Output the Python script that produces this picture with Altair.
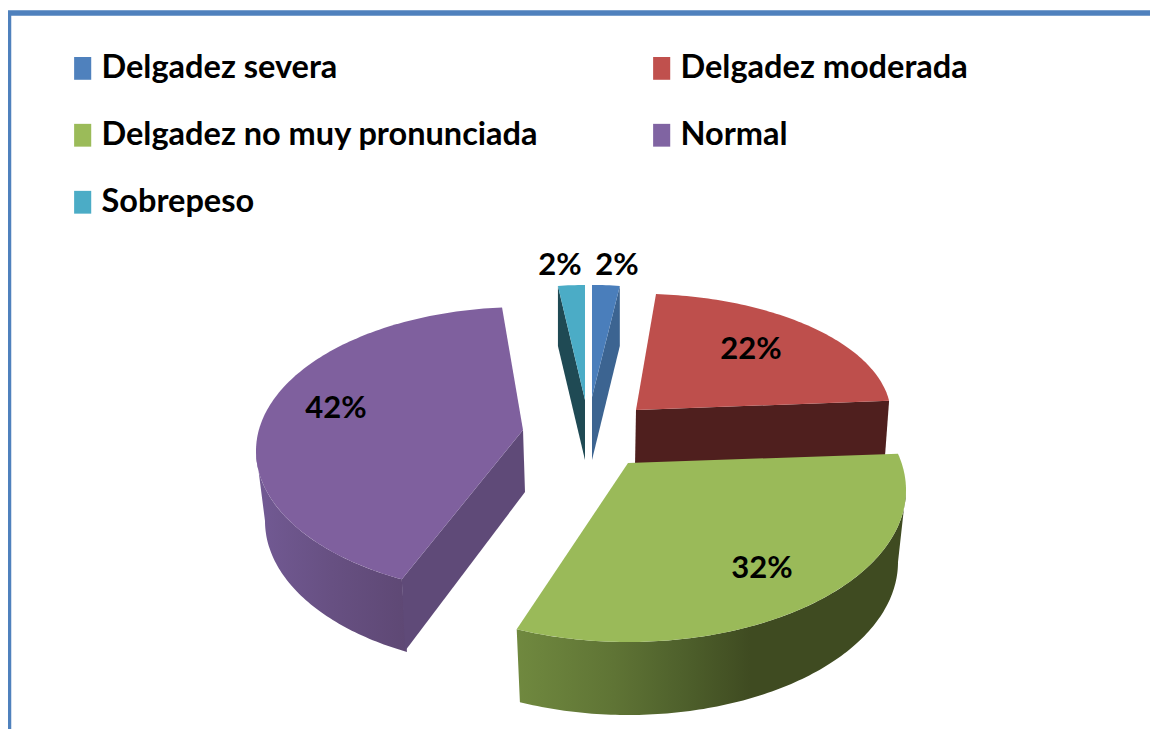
import math
import altair as alt
import pandas as pd

categories = ["Delgadez severa", "Delgadez moderada", "Delgadez no muy pronunciada", "Normal", "Sobrepeso"]
values = [2, 22, 32, 42, 2]
labels = ["2%", "22%", "32%", "42%", "2%"]
colors = ["#4F81BD", "#C0504D", "#9BBB59", "#8064A2", "#4BACC6"]

label_x = [617, 751, 762, 336, 560]
label_y = [266, 350, 569, 409, 266]

# perspective geometry of each exploded slice (reference pixel space)
geom = {
    0: dict(apex=(592, 397), a=222, b=112, cy=397, off=(0, 0)),
    1: dict(apex=(636, 410), a=255, b=122, cy=415.6, off=(-2.7, -3.4)),
    2: dict(apex=(628, 463), a=278, b=152, cy=490, off=(-10.2, 2.0)),
    3: dict(apex=(523, 430), a=267, b=144, cy=451, off=(5.4, 2.7)),
    4: dict(apex=(585, 400), a=216, b=115, cy=400, off=(0, 0)),
}

W, H = 1150, 729
x_scale = alt.Scale(domain=[8, W], range=[0, W - 8])
y_scale = alt.Scale(domain=[8, H], range=[0, H - 8])


def bounds(i):
    start = sum(values[:i]) * 3.6 + geom[i]["off"][0]
    end = sum(values[: i + 1]) * 3.6 + geom[i]["off"][1]
    return start, end


def arc(cx, cy, a, b, t0, t1):
    n = max(2, int(abs(t1 - t0)) + 1)
    pts = []
    for k in range(n + 1):
        t = math.radians(t0 + (t1 - t0) * k / n)
        pts.append((cx + a * math.sin(t), cy - b * math.cos(t)))
    return pts


def top_poly(i):
    g = geom[i]
    t0, t1 = bounds(i)
    return [g["apex"]] + arc(g["apex"][0], g["cy"], g["a"], g["b"], t0, t1)


def poly_layer(pts, fill):
    df = pd.DataFrame({"x": [p[0] for p in pts], "y": [p[1] for p in pts], "i": range(len(pts))})
    return alt.Chart(df).mark_line(fill=fill, strokeWidth=0, stroke="transparent", interpolate="linear-closed").encode(
        x=alt.X("x:Q", scale=x_scale, axis=None),
        y=alt.Y("y:Q", scale=y_scale, axis=None),
        order="i:Q",
    )


def gradient(stops):
    return alt.Gradient(
        gradient="linear", x1=0, x2=1, y1=0, y2=0,
        stops=[alt.GradientStop(offset=o, color=c) for o, c in stops],
    )


layers = []

# blue slice
t0, t1 = bounds(0)
top = top_poly(0)
e = top[-1]
layers.append(poly_layer([e, geom[0]["apex"], (592, 460), (e[0], e[1] + 60)], "#3C6491"))
layers.append(poly_layer(top, "#4A7EBB"))

# cyan slice
top = top_poly(4)
e = top[1]
layers.append(poly_layer([e, geom[4]["apex"], (585, 460), (e[0], e[1] + 60)], "#1F4A54"))
layers.append(poly_layer(top, "#4BACC6"))

# red slice
top = top_poly(1)
e = top[-1]
layers.append(poly_layer([geom[1]["apex"], e, (885, 456), (635, 466)], "#4F1F1E"))
layers.append(poly_layer(top, "#BE4F4C"))

# purple slice
g = geom[3]
t0, t1 = bounds(3)
top = top_poly(3)
upper = arc(g["apex"][0], g["cy"], g["a"], g["b"], t0, 270)
lower = arc(525, 521, 260, 147, 270, t0)
layers.append(poly_layer(upper + lower, gradient([(0, "#725A94"), (0.5, "#675082"), (1, "#5E4874")])))
layers.append(poly_layer([g["apex"], top[1], (405, 651), (525, 492)], "#5F4A78"))
layers.append(poly_layer(top, "#7F609E"))

# green slice
g = geom[2]
t0, t1 = bounds(2)
top = top_poly(2)
upper = arc(g["apex"][0], g["cy"], g["a"], g["b"], 90, t1)
lower = arc(628, 562, 270, 153, t1, 90)
layers.append(poly_layer(upper + lower, gradient([(0, "#70893F"), (0.25, "#5F7435"), (0.42, "#4F612C"), (0.6, "#3F4B21"), (1, "#3F4B21")])))
layers.append(poly_layer(top, "#9ABA59"))

# frame
frame = pd.DataFrame({"x": [8.5, 8.5, W], "y": [H, 13, 13], "i": [0, 1, 2]})
layers.append(
    alt.Chart(frame).mark_line(color="#4F81BD", strokeWidth=5.5, strokeJoin="round").encode(
        x=alt.X("x:Q", scale=x_scale, axis=None),
        y=alt.Y("y:Q", scale=y_scale, axis=None),
        order="i:Q",
    )
)

# legend carrier + labels
table = pd.DataFrame({"cat": categories, "value": values, "label": labels, "lx": label_x, "ly": label_y})
layers.append(
    alt.Chart(table).mark_square(size=0).encode(
        x=alt.X("lx:Q", scale=x_scale, axis=None),
        y=alt.Y("ly:Q", scale=y_scale, axis=None),
        color=alt.Color(
            "cat:N",
            scale=alt.Scale(domain=categories, range=colors),
            legend=alt.Legend(
                orient="none", direction="horizontal", legendX=55, legendY=44, columns=2, title=None,
                symbolType="M-0.45,-1H1.05V1H-0.45Z", symbolSize=520,
                symbolOpacity=1, symbolStrokeWidth=0,
                labelFont="Lato", labelFontWeight="bold", labelFontSize=32.5, labelColor="#000000",
                labelLimit=700, labelOffset=6, columnPadding=103, rowPadding=34,
            ),
        ),
    )
)
layers.append(
    alt.Chart(table).mark_text(font="Lato", fontWeight="bold", fontSize=31, color="#000000", baseline="middle", align="center").encode(
        x=alt.X("lx:Q", scale=x_scale, axis=None),
        y=alt.Y("ly:Q", scale=y_scale, axis=None),
        text="label:N",
    )
)

chart = alt.layer(*layers).properties(
    width=W - 8, height=H - 8, padding=0, background="white",
    autosize=alt.AutoSizeParams(type="none"),
).configure_view(stroke=None)

chart.save("out.html", embed_options={"renderer": "svg", "actions": False})
